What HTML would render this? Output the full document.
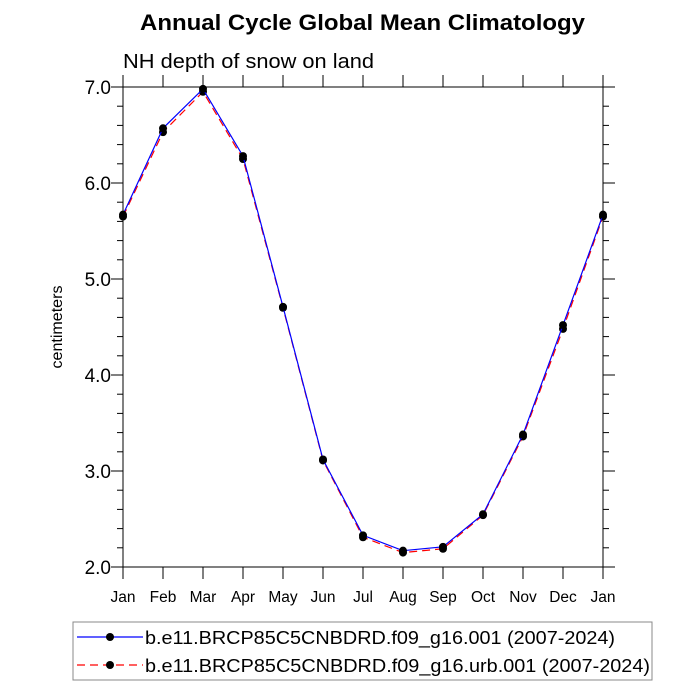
<!DOCTYPE html>
<html><head><meta charset="utf-8"><style>
body{margin:0;background:#fff}
svg{display:block;font-family:"Liberation Sans",sans-serif}
</style></head><body>
<svg id="chart" width="700" height="700" viewBox="0 0 700 700">
<text x="140" y="30" font-size="22" font-weight="bold" textLength="445" lengthAdjust="spacingAndGlyphs">Annual Cycle Global Mean Climatology</text>
<text x="123" y="68" font-size="20" textLength="251" lengthAdjust="spacingAndGlyphs">NH depth of snow on land</text>
<text transform="translate(62,327) rotate(-90)" text-anchor="middle" font-size="16" textLength="83" lengthAdjust="spacingAndGlyphs">centimeters</text>
<g id="axes"></g>
<g id="series"></g>
<g id="legend">
<rect x="73" y="622" width="579" height="58" fill="#fff" stroke="#888" stroke-width="1"></rect>
<line x1="77" y1="637" x2="143" y2="637" stroke="#0000ff" stroke-width="1.2"></line>
<circle cx="110" cy="637" r="4" fill="#000"></circle>
<text x="145" y="644" font-size="18" textLength="470" lengthAdjust="spacingAndGlyphs">b.e11.BRCP85C5CNBDRD.f09_g16.001 (2007-2024)</text>
<line x1="77" y1="665" x2="143" y2="665" stroke="#ff0000" stroke-width="1.2" stroke-dasharray="8,5"></line>
<circle cx="110" cy="665" r="4" fill="#000"></circle>
<text x="145" y="672" font-size="18" textLength="505" lengthAdjust="spacingAndGlyphs">b.e11.BRCP85C5CNBDRD.f09_g16.urb.001 (2007-2024)</text>
</g>
</svg>
<script>
const months = ["Jan","Feb","Mar","Apr","May","Jun","Jul","Aug","Sep","Oct","Nov","Dec","Jan"];
const controlValues = [5.67,6.57,6.98,6.28,4.71,3.12,2.33,2.17,2.21,2.55,3.38,4.52,5.67];
const urbanValues = [5.65,6.53,6.95,6.25,4.70,3.11,2.31,2.15,2.19,2.54,3.36,4.48,5.65];
const yTicks = [2.0,3.0,4.0,5.0,6.0,7.0];
const yTickLabels = ["2.0","3.0","4.0","5.0","6.0","7.0"];
const NS="http://www.w3.org/2000/svg";
const L=123,R=603,T=87,B=567,ymin=2,ymax=7;
const xs=i=>L+(R-L)*i/(months.length-1);
const ys=v=>B-(v-ymin)/(ymax-ymin)*(B-T);
function mk(tag,attrs,parent){const e=document.createElementNS(NS,tag);for(const k in attrs)e.setAttribute(k,attrs[k]);parent.appendChild(e);return e;}
const ax=document.getElementById('axes');
const frame=mk('rect',{x:L,y:T,width:R-L,height:B-T,fill:'none',stroke:'#000','stroke-width':1},ax);


months.forEach((m,i)=>{
  const x=xs(i);
  mk('line',{x1:x,y1:B,x2:x,y2:B+12,stroke:'#000'},ax);
  mk('line',{x1:x,y1:T,x2:x,y2:T-12,stroke:'#000'},ax);
  const t=mk('text',{x:x,y:B+35,'text-anchor':'middle','font-size':15.5},ax);
  t.textContent=m;
  
  
});
for(let v=ymin;v<=ymax+1e-9;v+=0.2){
  const y=ys(v);
  mk('line',{x1:L,y1:y,x2:L-6,y2:y,stroke:'#000'},ax);
  mk('line',{x1:R,y1:y,x2:R+6,y2:y,stroke:'#000'},ax);
}
yTicks.forEach((v,i)=>{
  const y=ys(v);
  mk('line',{x1:L,y1:y,x2:L-12,y2:y,stroke:'#000'},ax);
  mk('line',{x1:R,y1:y,x2:R+12,y2:y,stroke:'#000'},ax);
  const t=mk('text',{x:L-12,y:y+7,'text-anchor':'end','font-size':19},ax);
  t.textContent=yTickLabels[i];
  
  
});
const sg=document.getElementById('series');
function draw(vals,color,dash,name){
  const p=mk('polyline',{points:vals.map((v,i)=>xs(i)+','+ys(v)).join(' '),fill:'none',stroke:color,'stroke-width':1.2,'stroke-dasharray':dash},sg);
  
  
  vals.forEach((v,i)=>{
    const c=mk('circle',{cx:xs(i),cy:ys(v),r:4,fill:'#000'},sg);
    
    
  });
}
draw(urbanValues,'#ff0000','8,5','urban');
draw(controlValues,'#0000ff','none','control');
</script>
</body></html>
